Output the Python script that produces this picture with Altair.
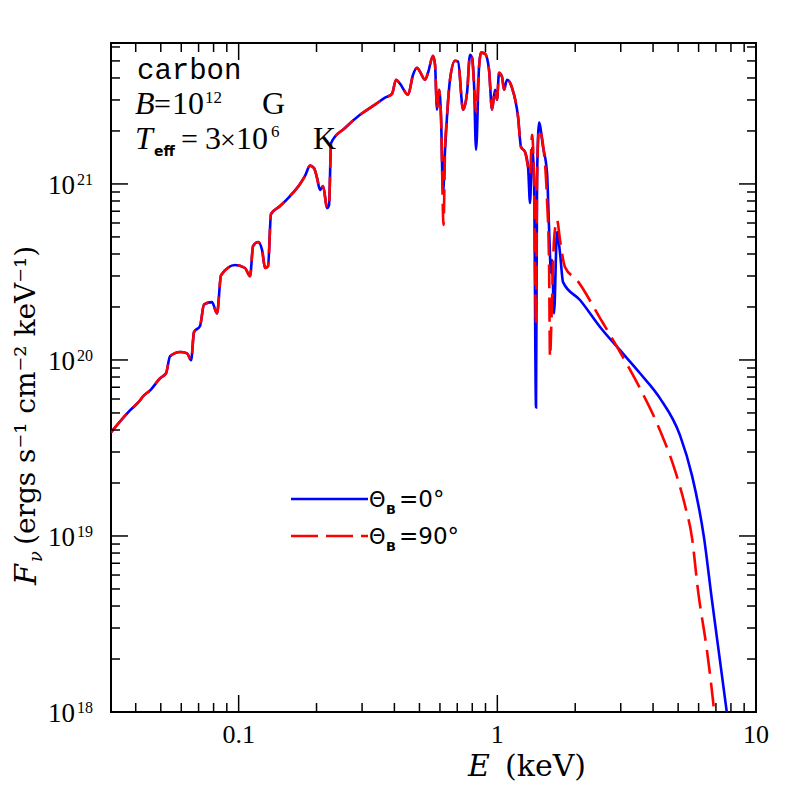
import altair as alt
import pandas as pd

# ---------------- data ----------------
# photon energy (keV) and flux F_nu (ergs s^-1 cm^-2 keV^-1)
# below ~0.6 keV the two curves coincide
common_E = [0.0321, 0.0380, 0.0416, 0.0427, 0.0455, 0.0497, 0.0524, 0.0543, 0.0594, 0.0632,
            0.0655, 0.0672, 0.0709, 0.0735, 0.0789, 0.0825, 0.0855, 0.0969, 0.1058, 0.1107,
            0.1137, 0.1189, 0.1232, 0.1265, 0.1299, 0.1334, 0.1445, 0.158, 0.1727, 0.1805,
            0.1888, 0.1956, 0.201, 0.2064, 0.212, 0.2197, 0.2236, 0.2277, 0.2577, 0.2946,
            0.3367, 0.368, 0.3917, 0.406, 0.4205, 0.4517, 0.4722, 0.4893, 0.5025, 0.5254,
            0.5396, 0.5642, 0.5743, 0.5846, 0.5951, 0.6058]
common_F = [3.88e19, 5.17e19, 5.90e19, 6.22e19, 6.72e19, 7.87e19, 8.40e19, 1.05e20, 1.11e20, 1.09e20,
            9.96e19, 1.44e20, 1.56e20, 2.07e20, 2.13e20, 1.84e20, 3.03e20, 3.46e20, 3.33e20, 2.99e20,
            4.44e20, 4.68e20, 4.21e20, 3.33e20, 3.41e20, 6.75e20, 7.49e20, 8.54e20, 1.00e21, 1.11e21,
            1.27e21, 1.23e21, 1.08e21, 9.25e20, 9.74e20, 7.30e20, 7.59e20, 1.71e21, 2.08e21, 2.47e21,
            2.82e21, 3.09e21, 3.25e21, 3.91e21, 3.71e21, 3.21e21, 4.17e21, 4.57e21, 4.34e21, 3.91e21,
            4.28e21, 5.35e21, 4.76e21, 2.64e21, 3.43e21, 2.41e21]

# Theta_B = 0 deg (blue, solid)
blue_E = [0.6166, 0.6278, 0.6389, 0.6562, 0.6864, 0.705, 0.7372, 0.7637, 0.7843, 0.7984,
          0.8128, 0.8275, 0.8498, 0.8649, 0.8964, 0.9288, 0.9539, 0.9797, 0.9972, 1.0153,
          1.0428, 1.0614, 1.0901, 1.1397, 1.2023, 1.2349, 1.2798, 1.3145, 1.3381, 1.3619,
          1.3865, 1.4113, 1.424, 1.4497, 1.5021, 1.5563, 1.5843, 1.6128, 1.6272, 1.6565,
          1.7013, 1.7474, 1.7947, 2.087, 2.4945, 2.981, 3.561, 4.256, 5.085, 5.656,
          6.295, 6.760, 7.259, 7.656, 7.935]
blue_F = [8.89e20, 1.56e21, 2.41e21, 3.91e21, 5.01e21, 4.95e21, 2.64e21, 3.30e21, 5.42e21, 5.21e21,
          3.66e21, 1.56e21, 4.63e21, 5.57e21, 5.49e21, 4.45e21, 2.64e21, 3.43e21, 3.01e21, 4.28e21,
          4.06e21, 3.43e21, 3.91e21, 3.52e21, 2.41e21, 1.62e21, 1.52e21, 1.25e21, 7.80e20, 1.60e21,
          1.05e21, 5.38e19, 1.05e21, 2.23e21, 1.62e21, 1.16e21, 5.69e20, 3.12e20, 3.69e20, 1.84e20,
          5.33e20, 4.05e20, 2.77e20, 2.19e20, 1.54e20, 1.136e20, 8.40e19, 6.05e19, 3.73e19, 2.21e19,
          9.79e18, 4.29e18, 1.95e18, 1.08e18, 7.3e17]

# Theta_B = 90 deg (red, dashed)
red_E = [0.6195, 0.6278, 0.6389, 0.6562, 0.6864, 0.705, 0.7372, 0.7637, 0.7843, 0.7984,
         0.8128, 0.8275, 0.8498, 0.8649, 0.8964, 0.9288, 0.9539, 0.9797, 0.9972, 1.0153,
         1.0428, 1.0614, 1.0901, 1.1397, 1.2023, 1.2349, 1.2798, 1.3145, 1.3381, 1.3619,
         1.3865, 1.4113, 1.424, 1.4497, 1.5021, 1.5563, 1.5843, 1.598, 1.6272, 1.6565,
         1.7013, 1.7474, 1.8265, 2.0331, 2.4945, 2.981, 3.561, 4.256, 4.863, 5.316,
         5.656, 5.969, 6.464, 6.821, 7.005]
red_F = [5.85e20, 1.56e21, 2.41e21, 3.91e21, 5.01e21, 4.95e21, 2.64e21, 3.30e21, 5.42e21, 5.21e21,
         3.66e21, 2.57e21, 4.63e21, 5.57e21, 5.49e21, 4.45e21, 2.64e21, 3.43e21, 3.01e21, 4.28e21,
         4.06e21, 3.43e21, 3.91e21, 3.52e21, 2.41e21, 1.62e21, 1.52e21, 1.25e21, 1.13e21, 1.90e21,
         1.05e21, 1.58e20, 1.05e21, 2.05e21, 1.67e21, 8.11e20, 3.69e20, 1.04e20, 2.19e20, 4.80e20,
         6.24e20, 4.80e20, 3.37e20, 2.84e20, 1.73e20, 1.11e20, 6.90e19, 3.98e19, 2.36e19, 1.49e19,
         9.79e18, 4.89e18, 2.23e18, 1.16e18, 7.8e17]

# axis ticks and labels
x_major = [0.1, 1, 10]
x_labels = ["0.1", "1", "10"]
x_minor = [0.04, 0.05, 0.06, 0.07, 0.08, 0.09, 0.2, 0.3, 0.4, 0.5, 0.6, 0.7, 0.8, 0.9,
           2, 3, 4, 5, 6, 7, 8, 9]
y_major = [1e18, 1e19, 1e20, 1e21]
y_exps = ["18", "19", "20", "21"]
y_minor = [m * 10.0 ** e for e in (18, 19, 20) for m in range(2, 10)] + [2e21, 3e21, 4e21, 5e21, 6e21]

# ---------------- chart ----------------
W, H = 645, 669
xscale = alt.Scale(type="log", domain=[0.0321, 10], nice=False)
yscale = alt.Scale(type="log", domain=[1e18, 6.32e21], nice=False)
SERIF = "DejaVu Serif"
LIB = "Liberation Serif"

layers = []


def curve(E, F, color, dash=None):
    df = pd.DataFrame({"E": E, "F": F, "i": list(range(len(E)))})
    kw = dict(color=color, strokeWidth=2.6, clip=True, interpolate="monotone")
    if dash:
        kw["strokeDash"] = dash
    return alt.Chart(df).mark_line(**kw).encode(
        x=alt.X("E:Q", scale=xscale, axis=None),
        y=alt.Y("F:Q", scale=yscale, axis=None),
        order="i:Q",
    )


layers.append(curve(common_E + blue_E, common_F + blue_F, "#0000ff"))
layers.append(curve(common_E + red_E, common_F + red_F, "#ff0000", [24, 9]))


def xticks(vals, length):
    df = pd.DataFrame({"v": vals})
    base = alt.Chart(df).mark_rule(color="black", strokeWidth=1.5)
    xx = alt.X("v:Q", scale=xscale, axis=None)
    return [
        base.encode(x=xx, y=alt.value(H), y2=alt.value(H - length)),
        base.encode(x=xx, y=alt.value(0), y2=alt.value(length)),
    ]


def yticks(vals, length):
    df = pd.DataFrame({"v": vals})
    base = alt.Chart(df).mark_rule(color="black", strokeWidth=1.5)
    yy = alt.Y("v:Q", scale=yscale, axis=None)
    return [
        base.encode(y=yy, x=alt.value(0), x2=alt.value(length)),
        base.encode(y=yy, x=alt.value(W), x2=alt.value(W - length)),
    ]


layers += xticks(x_major, 17) + xticks(x_minor, 9)
layers += yticks(y_major, 17) + yticks(y_minor, 9)

# x tick labels
layers.append(
    alt.Chart(pd.DataFrame({"v": x_major, "t": x_labels}))
    .mark_text(font=LIB, fontSize=26, align="center", baseline="alphabetic", color="black")
    .encode(x=alt.X("v:Q", scale=xscale, axis=None), y=alt.value(700), text="t:N")
)
# y tick labels: "10" + exponent
ydf = pd.DataFrame({"v": y_major, "t": ["10"] * 4, "e": y_exps})
layers.append(
    alt.Chart(ydf)
    .mark_text(font=LIB, fontSize=27, align="right", baseline="middle", dy=2, color="black")
    .encode(y=alt.Y("v:Q", scale=yscale, axis=None), x=alt.value(-36), text="t:N")
)
layers.append(
    alt.Chart(ydf)
    .mark_text(font=LIB, fontSize=16, align="left", baseline="middle", dy=-4, color="black")
    .encode(y=alt.Y("v:Q", scale=yscale, axis=None), x=alt.value(-34), text="e:N")
)


def txt(s, x, y, size, font=SERIF, style="normal", weight="normal", align="left", angle=0):
    kw = dict(text=s, font=font, fontSize=size, fontStyle=style, fontWeight=weight,
              align=align, baseline="alphabetic", color="black")
    if angle:
        kw["angle"] = angle
    return alt.Chart(pd.DataFrame({"a": [0]})).mark_text(**kw).encode(
        x=alt.value(x), y=alt.value(y))


# axis titles
layers.append(txt("E", 357, 733, 30, style="italic"))
layers.append(txt("(keV)", 394, 733, 30))
layers.append(txt("F", -75, 542, 30, style="italic", angle=270))
layers.append(txt("ν", -69, 519, 18, style="italic", angle=270))
layers.append(txt("(ergs s⁻¹ cm⁻² keV⁻¹)", -76, 502, 28, angle=270))

# annotation, top left
layers.append(txt("carbon", 26, 36, 29, font="Liberation Mono"))
layers.append(txt("B", 24, 71, 32, font=LIB, style="italic"))
layers.append(txt("=", 43, 71, 30, font=LIB))
layers.append(txt("10", 61, 71, 32, font=LIB))
layers.append(txt("12", 94, 60, 17, font=LIB))
layers.append(txt("G", 151, 71, 32, font=LIB))
layers.append(txt("T", 24, 106, 32, font=LIB, style="italic"))
layers.append(txt("eff", 43, 113, 14, font="DejaVu Sans", weight="bold"))
layers.append(txt("=", 70, 106, 30, font=LIB))
layers.append(txt("3", 94, 106, 32, font=LIB))
layers.append(txt("×", 109, 106, 28, font=LIB))
layers.append(txt("10", 125, 106, 32, font=LIB))
layers.append(txt("6", 160, 94, 17, font=LIB))
layers.append(txt("K", 202, 106, 32, font=LIB))

# legend
one = pd.DataFrame({"a": [0]})
layers.append(alt.Chart(one).mark_rule(color="#0000ff", strokeWidth=2.6).encode(
    x=alt.value(180), x2=alt.value(257), y=alt.value(456)))
layers.append(alt.Chart(one).mark_rule(color="#ff0000", strokeWidth=2.6, strokeDash=[27, 8]).encode(
    x=alt.value(180), x2=alt.value(257), y=alt.value(493)))
for yb, lab in ((464, "=0°"), (501, "=90°")):
    layers.append(txt("Θ", 258, yb, 21, font="DejaVu Sans"))
    layers.append(txt("B", 275, yb + 7, 13, font="DejaVu Sans", weight="bold"))
    layers.append(txt(lab, 288, yb, 23, font="DejaVu Sans"))

chart = alt.layer(*layers).properties(
    width=W,
    height=H,
    padding={"left": 103, "top": 35, "right": 33, "bottom": 77},
    autosize=alt.AutoSizeParams(type="none"),
).configure_view(stroke="black", strokeWidth=2)

chart.save("out.html", embed_options={"renderer": "svg", "actions": False})
